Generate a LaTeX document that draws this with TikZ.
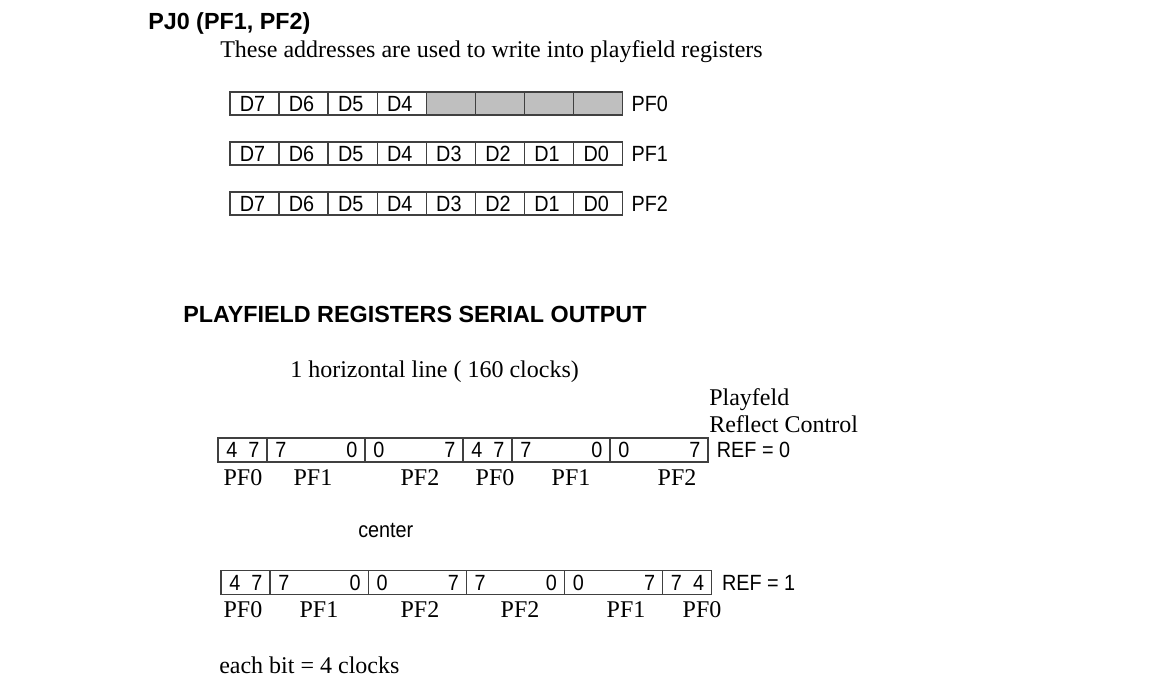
\documentclass[tikz,border=0pt]{standalone}
\usepackage{fontspec}
\setmainfont{Liberation Serif}
\setsansfont{Liberation Sans}
\newfontfamily\narrowsf{Liberation Sans}[FakeStretch=0.9]
\usetikzlibrary{positioning}
\tikzset{>=latex}
\tikzset{
  cell/.style={draw=black!75, line width=1pt, minimum width=36.8pt, minimum height=17.25pt, inner sep=0pt, text width=22pt, align=left, text height=11.8pt, text depth=0pt, font=\narrowsf\fontsize{16.5}{18}\selectfont},
  seg/.style={draw=black!75, line width=1pt, minimum height=18pt, inner sep=0pt},
  sans/.style={inner sep=0pt, text height=11.8pt, text depth=0pt, font=\narrowsf\fontsize{16.5}{18}\selectfont},
  serif/.style={inner sep=0pt, font=\fontsize{18}{22}\selectfont},
  head/.style={inner sep=0pt, font=\sffamily\bfseries\fontsize{17.5}{21}\selectfont},
}

\begin{document}
\begin{tikzpicture}[x=0.75pt,y=-0.75pt]
\useasboundingbox (0,0) rectangle (1172,687);
% headings
\node[head, anchor=base west] (title) at (148,29) {PJ0 (PF1, PF2)};
\node[serif, anchor=base west] (intro) at (220,57) {These addresses are used to write into playfield registers};
% PF0 register, low nibble unused
\foreach \i in {0,...,7} {
  \pgfmathtruncatemacro\n{7-\i}
  \ifnum\i<4 \node[cell] (pfz\i) at ({254.5+49.1*\i},103.5) {D\n};
  \else \node[cell, fill=black!25] (pfz\i) at ({254.5+49.1*\i},103.5) {}; \fi
}
\node[sans, right=6pt of pfz7] (pfzname) {PF0};
% PF1 and PF2 registers
\foreach \r/\y/\t in {a/153.5/PF1, b/203.5/PF2} {
  \foreach \i in {0,...,7} {
    \pgfmathtruncatemacro\n{7-\i}
    \node[cell] (pf\r\i) at ({254.5+49.1*\i},\y) {D\n};
  }
  \node[sans, right=6pt of pf\r7] (pf\r name) {\t};
}

\node[head, anchor=base west] (serial) at (183,322) {PLAYFIELD REGISTERS SERIAL OUTPUT};
\node[serif, anchor=base west] (hline) at (290,377) {1 horizontal line ( 160 clocks)};
\node[serif, anchor=base west] (pfc) at (709,405) {Playfeld};
\node[serif, anchor=base west] (rfc) at (709,432) {Reflect Control};

% REF = 0 : PF0 PF1 PF2 repeated
\foreach \s/\w/\a/\b [count=\k] in {0/4/4/7, 4/8/7/0, 12/8/0/7, 20/4/4/7, 24/8/7/0, 32/8/0/7} {
  \node[seg, minimum width={\w*9.1875pt}] (ra\k) at ({218+12.25*(\s+\w/2)},450) {};
  \node[sans, anchor=west] (ra\k-l) at ([xshift=6.5pt]ra\k.west) {\a};
  \node[sans, anchor=east] (ra\k-r) at ([xshift=-6pt]ra\k.east) {\b};
}
\node[sans, right=6pt of ra6] (refa) {REF = 0};
\foreach \x/\t [count=\k] in {243/PF0, 313/PF1, 420/PF2, 495/PF0, 571/PF1, 677/PF2}
  \node[serif] (la\k) at (\x,478) {\t};

\node[sans, anchor=base west] (ctr) at (358,537) {center};

% REF = 1 : second half mirrored
\foreach \s/\w/\a/\b [count=\k] in {0/4/4/7, 4/8/7/0, 12/8/0/7, 20/8/7/0, 28/8/0/7, 36/4/7/4} {
  \node[seg, minimum width={\w*9.2pt}] (rb\k) at ({221+12.27*(\s+\w/2)},582.5) {};
  \node[sans, anchor=west] (rb\k-l) at ([xshift=6.5pt]rb\k.west) {\a};
  \node[sans, anchor=east] (rb\k-r) at ([xshift=-6pt]rb\k.east) {\b};
}
\node[sans, right=7pt of rb6] (refb) {REF = 1};
\foreach \x/\t [count=\k] in {243/PF0, 319/PF1, 420/PF2, 520/PF2, 626/PF1, 702/PF0}
  \node[serif] (lb\k) at (\x,610) {\t};

\node[serif, anchor=base west] (note) at (219,673) {each bit = 4 clocks};
\end{tikzpicture}
\end{document}
